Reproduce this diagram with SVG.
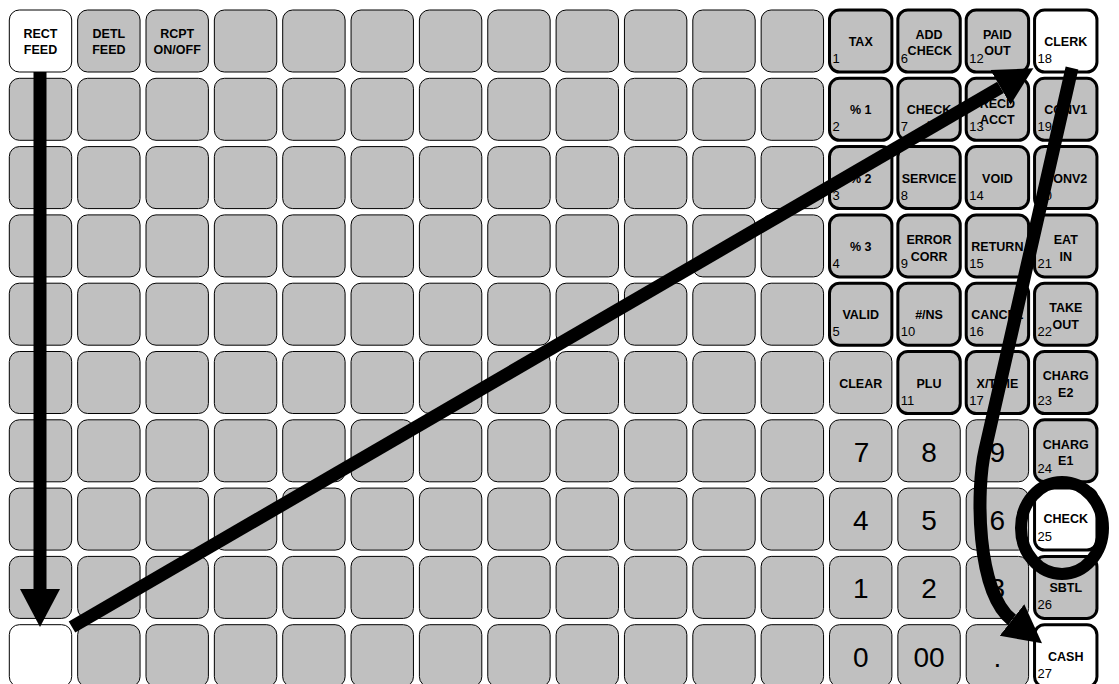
<svg xmlns="http://www.w3.org/2000/svg" width="1119" height="684" viewBox="0 0 1119 684">
<style>
.key{fill:#c0c0c0;stroke:#000;stroke-width:1}
.w{fill:#fff}
.fk{stroke-width:3}
.lb{font-family:"Liberation Sans",Arial,sans-serif;font-weight:bold;font-size:12.5px;text-anchor:middle;fill:#000}
.nm{font-family:"Liberation Sans",Arial,sans-serif;font-size:13px;fill:#000}
.dg{font-family:"Liberation Sans",Arial,sans-serif;font-size:28px;text-anchor:middle;fill:#000}
.ar{fill:none;stroke:#000;stroke-width:13}
</style>
<defs>
<marker id="ah" markerUnits="userSpaceOnUse" markerWidth="40" markerHeight="42" refX="0" refY="21" orient="auto" viewBox="0 0 40 42">
<path d="M0,1 L38,21 L0,41 z" fill="#000"/>
</marker>
<rect id="kb" width="62.4" height="62" rx="10"/>
</defs>
<rect width="1119" height="684" fill="#fff"/>
<g id="keys">
<!-- row 0 -->
<g id="k0_0" transform="translate(9.3,10)"><rect class="key w" width="62.4" height="62" rx="10"/><text class="lb" x="31.2" y="27.5">RECT</text><text class="lb" x="31.2" y="43.5">FEED</text></g>
<g id="k0_1" transform="translate(77.65,10)"><rect class="key" width="62.4" height="62" rx="10"/><text class="lb" x="31.2" y="27.5">DETL</text><text class="lb" x="31.2" y="43.5">FEED</text></g>
<g id="k0_2" transform="translate(146,10)"><rect class="key" width="62.4" height="62" rx="10"/><text class="lb" x="31.2" y="27.5">RCPT</text><text class="lb" x="31.2" y="43.5">ON/OFF</text></g>
<g id="k0_3" transform="translate(214.35,10)"><rect class="key" width="62.4" height="62" rx="10"/></g>
<g id="k0_4" transform="translate(282.7,10)"><rect class="key" width="62.4" height="62" rx="10"/></g>
<g id="k0_5" transform="translate(351.05,10)"><rect class="key" width="62.4" height="62" rx="10"/></g>
<g id="k0_6" transform="translate(419.4,10)"><rect class="key" width="62.4" height="62" rx="10"/></g>
<g id="k0_7" transform="translate(487.75,10)"><rect class="key" width="62.4" height="62" rx="10"/></g>
<g id="k0_8" transform="translate(556.1,10)"><rect class="key" width="62.4" height="62" rx="10"/></g>
<g id="k0_9" transform="translate(624.45,10)"><rect class="key" width="62.4" height="62" rx="10"/></g>
<g id="k0_10" transform="translate(692.8,10)"><rect class="key" width="62.4" height="62" rx="10"/></g>
<g id="k0_11" transform="translate(761.15,10)"><rect class="key" width="62.4" height="62" rx="10"/></g>
<g id="k0_12" transform="translate(829.5,10)"><rect class="key fk" width="62.4" height="62" rx="10"/><text class="lb" x="31.2" y="36">TAX</text><text class="nm" x="3" y="53">1</text></g>
<g id="k0_13" transform="translate(897.85,10)"><rect class="key fk" width="62.4" height="62" rx="10"/><text class="lb" x="31.2" y="28.5">ADD</text><text class="lb" x="32" y="45.3">CHECK</text><text class="nm" x="3" y="53">6</text></g>
<g id="k0_14" transform="translate(966.2,10)"><rect class="key fk" width="62.4" height="62" rx="10"/><text class="lb" x="31.2" y="28.5">PAID</text><text class="lb" x="31.2" y="45.3">OUT</text><text class="nm" x="3" y="53">12</text></g>
<g id="k0_15" transform="translate(1034.55,10)"><rect class="key fk w" width="62.4" height="62" rx="10"/><text class="lb" x="31.2" y="36">CLERK</text><text class="nm" x="3" y="53">18</text></g>
<!-- row 1 -->
<g id="k1_0" transform="translate(9.3,78.3)"><rect class="key" width="62.4" height="62" rx="10"/></g>
<g id="k1_1" transform="translate(77.65,78.3)"><rect class="key" width="62.4" height="62" rx="10"/></g>
<g id="k1_2" transform="translate(146,78.3)"><rect class="key" width="62.4" height="62" rx="10"/></g>
<g id="k1_3" transform="translate(214.35,78.3)"><rect class="key" width="62.4" height="62" rx="10"/></g>
<g id="k1_4" transform="translate(282.7,78.3)"><rect class="key" width="62.4" height="62" rx="10"/></g>
<g id="k1_5" transform="translate(351.05,78.3)"><rect class="key" width="62.4" height="62" rx="10"/></g>
<g id="k1_6" transform="translate(419.4,78.3)"><rect class="key" width="62.4" height="62" rx="10"/></g>
<g id="k1_7" transform="translate(487.75,78.3)"><rect class="key" width="62.4" height="62" rx="10"/></g>
<g id="k1_8" transform="translate(556.1,78.3)"><rect class="key" width="62.4" height="62" rx="10"/></g>
<g id="k1_9" transform="translate(624.45,78.3)"><rect class="key" width="62.4" height="62" rx="10"/></g>
<g id="k1_10" transform="translate(692.8,78.3)"><rect class="key" width="62.4" height="62" rx="10"/></g>
<g id="k1_11" transform="translate(761.15,78.3)"><rect class="key" width="62.4" height="62" rx="10"/></g>
<g id="k1_12" transform="translate(829.5,78.3)"><rect class="key fk" width="62.4" height="62" rx="10"/><text class="lb" x="31.2" y="36">% 1</text><text class="nm" x="3" y="53">2</text></g>
<g id="k1_13" transform="translate(897.85,78.3)"><rect class="key fk" width="62.4" height="62" rx="10"/><text class="lb" x="31.2" y="35.7">CHECK</text><text class="lb" x="31.2" y="51.7">#</text><text class="nm" x="3" y="53">7</text></g>
<g id="k1_14" transform="translate(966.2,78.3)"><rect class="key fk" width="62.4" height="62" rx="10"/><text class="lb" x="31.2" y="29.7">RECD</text><text class="lb" x="31.2" y="45.7">ACCT</text><text class="nm" x="3" y="53">13</text></g>
<g id="k1_15" transform="translate(1034.55,78.3)"><rect class="key fk" width="62.4" height="62" rx="10"/><text class="lb" x="31.2" y="36">CONV1</text><text class="nm" x="3" y="53">19</text></g>
<!-- row 2 -->
<g id="k2_0" transform="translate(9.3,146.6)"><rect class="key" width="62.4" height="62" rx="10"/></g>
<g id="k2_1" transform="translate(77.65,146.6)"><rect class="key" width="62.4" height="62" rx="10"/></g>
<g id="k2_2" transform="translate(146,146.6)"><rect class="key" width="62.4" height="62" rx="10"/></g>
<g id="k2_3" transform="translate(214.35,146.6)"><rect class="key" width="62.4" height="62" rx="10"/></g>
<g id="k2_4" transform="translate(282.7,146.6)"><rect class="key" width="62.4" height="62" rx="10"/></g>
<g id="k2_5" transform="translate(351.05,146.6)"><rect class="key" width="62.4" height="62" rx="10"/></g>
<g id="k2_6" transform="translate(419.4,146.6)"><rect class="key" width="62.4" height="62" rx="10"/></g>
<g id="k2_7" transform="translate(487.75,146.6)"><rect class="key" width="62.4" height="62" rx="10"/></g>
<g id="k2_8" transform="translate(556.1,146.6)"><rect class="key" width="62.4" height="62" rx="10"/></g>
<g id="k2_9" transform="translate(624.45,146.6)"><rect class="key" width="62.4" height="62" rx="10"/></g>
<g id="k2_10" transform="translate(692.8,146.6)"><rect class="key" width="62.4" height="62" rx="10"/></g>
<g id="k2_11" transform="translate(761.15,146.6)"><rect class="key" width="62.4" height="62" rx="10"/></g>
<g id="k2_12" transform="translate(829.5,146.6)"><rect class="key fk" width="62.4" height="62" rx="10"/><text class="lb" x="31.2" y="36">% 2</text><text class="nm" x="3" y="53">3</text></g>
<g id="k2_13" transform="translate(897.85,146.6)"><rect class="key fk" width="62.4" height="62" rx="10"/><text class="lb" x="31.2" y="36">SERVICE</text><text class="nm" x="3" y="53">8</text></g>
<g id="k2_14" transform="translate(966.2,146.6)"><rect class="key fk" width="62.4" height="62" rx="10"/><text class="lb" x="31.2" y="36">VOID</text><text class="nm" x="3" y="53">14</text></g>
<g id="k2_15" transform="translate(1034.55,146.6)"><rect class="key fk" width="62.4" height="62" rx="10"/><text class="lb" x="31.2" y="36">CONV2</text><text class="nm" x="3" y="53">20</text></g>
<!-- row 3 -->
<g id="k3_0" transform="translate(9.3,214.9)"><rect class="key" width="62.4" height="62" rx="10"/></g>
<g id="k3_1" transform="translate(77.65,214.9)"><rect class="key" width="62.4" height="62" rx="10"/></g>
<g id="k3_2" transform="translate(146,214.9)"><rect class="key" width="62.4" height="62" rx="10"/></g>
<g id="k3_3" transform="translate(214.35,214.9)"><rect class="key" width="62.4" height="62" rx="10"/></g>
<g id="k3_4" transform="translate(282.7,214.9)"><rect class="key" width="62.4" height="62" rx="10"/></g>
<g id="k3_5" transform="translate(351.05,214.9)"><rect class="key" width="62.4" height="62" rx="10"/></g>
<g id="k3_6" transform="translate(419.4,214.9)"><rect class="key" width="62.4" height="62" rx="10"/></g>
<g id="k3_7" transform="translate(487.75,214.9)"><rect class="key" width="62.4" height="62" rx="10"/></g>
<g id="k3_8" transform="translate(556.1,214.9)"><rect class="key" width="62.4" height="62" rx="10"/></g>
<g id="k3_9" transform="translate(624.45,214.9)"><rect class="key" width="62.4" height="62" rx="10"/></g>
<g id="k3_10" transform="translate(692.8,214.9)"><rect class="key" width="62.4" height="62" rx="10"/></g>
<g id="k3_11" transform="translate(761.15,214.9)"><rect class="key" width="62.4" height="62" rx="10"/></g>
<g id="k3_12" transform="translate(829.5,214.9)"><rect class="key fk" width="62.4" height="62" rx="10"/><text class="lb" x="31.2" y="36">% 3</text><text class="nm" x="3" y="53">4</text></g>
<g id="k3_13" transform="translate(897.85,214.9)"><rect class="key fk" width="62.4" height="62" rx="10"/><text class="lb" x="31.2" y="29">ERROR</text><text class="lb" x="31.2" y="46">CORR</text><text class="nm" x="3" y="53">9</text></g>
<g id="k3_14" transform="translate(966.2,214.9)"><rect class="key fk" width="62.4" height="62" rx="10"/><text class="lb" x="31.2" y="36">RETURN</text><text class="nm" x="3" y="53">15</text></g>
<g id="k3_15" transform="translate(1034.55,214.9)"><rect class="key fk" width="62.4" height="62" rx="10"/><text class="lb" x="31.2" y="29">EAT</text><text class="lb" x="31.2" y="46">IN</text><text class="nm" x="3" y="53">21</text></g>
<!-- row 4 -->
<g id="k4_0" transform="translate(9.3,283.2)"><rect class="key" width="62.4" height="62" rx="10"/></g>
<g id="k4_1" transform="translate(77.65,283.2)"><rect class="key" width="62.4" height="62" rx="10"/></g>
<g id="k4_2" transform="translate(146,283.2)"><rect class="key" width="62.4" height="62" rx="10"/></g>
<g id="k4_3" transform="translate(214.35,283.2)"><rect class="key" width="62.4" height="62" rx="10"/></g>
<g id="k4_4" transform="translate(282.7,283.2)"><rect class="key" width="62.4" height="62" rx="10"/></g>
<g id="k4_5" transform="translate(351.05,283.2)"><rect class="key" width="62.4" height="62" rx="10"/></g>
<g id="k4_6" transform="translate(419.4,283.2)"><rect class="key" width="62.4" height="62" rx="10"/></g>
<g id="k4_7" transform="translate(487.75,283.2)"><rect class="key" width="62.4" height="62" rx="10"/></g>
<g id="k4_8" transform="translate(556.1,283.2)"><rect class="key" width="62.4" height="62" rx="10"/></g>
<g id="k4_9" transform="translate(624.45,283.2)"><rect class="key" width="62.4" height="62" rx="10"/></g>
<g id="k4_10" transform="translate(692.8,283.2)"><rect class="key" width="62.4" height="62" rx="10"/></g>
<g id="k4_11" transform="translate(761.15,283.2)"><rect class="key" width="62.4" height="62" rx="10"/></g>
<g id="k4_12" transform="translate(829.5,283.2)"><rect class="key fk" width="62.4" height="62" rx="10"/><text class="lb" x="31.2" y="36">VALID</text><text class="nm" x="3" y="53">5</text></g>
<g id="k4_13" transform="translate(897.85,283.2)"><rect class="key fk" width="62.4" height="62" rx="10"/><text class="lb" x="31.2" y="36">#/NS</text><text class="nm" x="3" y="53">10</text></g>
<g id="k4_14" transform="translate(966.2,283.2)"><rect class="key fk" width="62.4" height="62" rx="10"/><text class="lb" x="31.2" y="36">CANCEL</text><text class="nm" x="3" y="53">16</text></g>
<g id="k4_15" transform="translate(1034.55,283.2)"><rect class="key fk" width="62.4" height="62" rx="10"/><text class="lb" x="31.2" y="28.5">TAKE</text><text class="lb" x="31.2" y="45.8">OUT</text><text class="nm" x="3" y="53">22</text></g>
<!-- row 5 -->
<g id="k5_0" transform="translate(9.3,351.5)"><rect class="key" width="62.4" height="62" rx="10"/></g>
<g id="k5_1" transform="translate(77.65,351.5)"><rect class="key" width="62.4" height="62" rx="10"/></g>
<g id="k5_2" transform="translate(146,351.5)"><rect class="key" width="62.4" height="62" rx="10"/></g>
<g id="k5_3" transform="translate(214.35,351.5)"><rect class="key" width="62.4" height="62" rx="10"/></g>
<g id="k5_4" transform="translate(282.7,351.5)"><rect class="key" width="62.4" height="62" rx="10"/></g>
<g id="k5_5" transform="translate(351.05,351.5)"><rect class="key" width="62.4" height="62" rx="10"/></g>
<g id="k5_6" transform="translate(419.4,351.5)"><rect class="key" width="62.4" height="62" rx="10"/></g>
<g id="k5_7" transform="translate(487.75,351.5)"><rect class="key" width="62.4" height="62" rx="10"/></g>
<g id="k5_8" transform="translate(556.1,351.5)"><rect class="key" width="62.4" height="62" rx="10"/></g>
<g id="k5_9" transform="translate(624.45,351.5)"><rect class="key" width="62.4" height="62" rx="10"/></g>
<g id="k5_10" transform="translate(692.8,351.5)"><rect class="key" width="62.4" height="62" rx="10"/></g>
<g id="k5_11" transform="translate(761.15,351.5)"><rect class="key" width="62.4" height="62" rx="10"/></g>
<g id="k5_12" transform="translate(829.5,351.5)"><rect class="key" width="62.4" height="62" rx="10"/><text class="lb" x="31.2" y="36">CLEAR</text></g>
<g id="k5_13" transform="translate(897.85,351.5)"><rect class="key fk" width="62.4" height="62" rx="10"/><text class="lb" x="31.2" y="36">PLU</text><text class="nm" x="3" y="53">11</text></g>
<g id="k5_14" transform="translate(966.2,351.5)"><rect class="key fk" width="62.4" height="62" rx="10"/><text class="lb" x="31.2" y="36">X/TIME</text><text class="nm" x="3" y="53">17</text></g>
<g id="k5_15" transform="translate(1034.55,351.5)"><rect class="key fk" width="62.4" height="62" rx="10"/><text class="lb" x="31.2" y="28.5">CHARG</text><text class="lb" x="31.2" y="45.3">E2</text><text class="nm" x="3" y="53">23</text></g>
<!-- row 6 -->
<g id="k6_0" transform="translate(9.3,419.8)"><rect class="key" width="62.4" height="62" rx="10"/></g>
<g id="k6_1" transform="translate(77.65,419.8)"><rect class="key" width="62.4" height="62" rx="10"/></g>
<g id="k6_2" transform="translate(146,419.8)"><rect class="key" width="62.4" height="62" rx="10"/></g>
<g id="k6_3" transform="translate(214.35,419.8)"><rect class="key" width="62.4" height="62" rx="10"/></g>
<g id="k6_4" transform="translate(282.7,419.8)"><rect class="key" width="62.4" height="62" rx="10"/></g>
<g id="k6_5" transform="translate(351.05,419.8)"><rect class="key" width="62.4" height="62" rx="10"/></g>
<g id="k6_6" transform="translate(419.4,419.8)"><rect class="key" width="62.4" height="62" rx="10"/></g>
<g id="k6_7" transform="translate(487.75,419.8)"><rect class="key" width="62.4" height="62" rx="10"/></g>
<g id="k6_8" transform="translate(556.1,419.8)"><rect class="key" width="62.4" height="62" rx="10"/></g>
<g id="k6_9" transform="translate(624.45,419.8)"><rect class="key" width="62.4" height="62" rx="10"/></g>
<g id="k6_10" transform="translate(692.8,419.8)"><rect class="key" width="62.4" height="62" rx="10"/></g>
<g id="k6_11" transform="translate(761.15,419.8)"><rect class="key" width="62.4" height="62" rx="10"/></g>
<g id="k6_12" transform="translate(829.5,419.8)"><rect class="key" width="62.4" height="62" rx="10"/><text class="dg" x="32" y="42">7</text></g>
<g id="k6_13" transform="translate(897.85,419.8)"><rect class="key" width="62.4" height="62" rx="10"/><text class="dg" x="31.2" y="42">8</text></g>
<g id="k6_14" transform="translate(966.2,419.8)"><rect class="key" width="62.4" height="62" rx="10"/><text class="dg" x="31.2" y="42">9</text></g>
<g id="k6_15" transform="translate(1034.55,419.8)"><rect class="key fk" width="62.4" height="62" rx="10"/><text class="lb" x="31.2" y="29.2">CHARG</text><text class="lb" x="31.2" y="45.2">E1</text><text class="nm" x="3" y="53">24</text></g>
<!-- row 7 -->
<g id="k7_0" transform="translate(9.3,488.1)"><rect class="key" width="62.4" height="62" rx="10"/></g>
<g id="k7_1" transform="translate(77.65,488.1)"><rect class="key" width="62.4" height="62" rx="10"/></g>
<g id="k7_2" transform="translate(146,488.1)"><rect class="key" width="62.4" height="62" rx="10"/></g>
<g id="k7_3" transform="translate(214.35,488.1)"><rect class="key" width="62.4" height="62" rx="10"/></g>
<g id="k7_4" transform="translate(282.7,488.1)"><rect class="key" width="62.4" height="62" rx="10"/></g>
<g id="k7_5" transform="translate(351.05,488.1)"><rect class="key" width="62.4" height="62" rx="10"/></g>
<g id="k7_6" transform="translate(419.4,488.1)"><rect class="key" width="62.4" height="62" rx="10"/></g>
<g id="k7_7" transform="translate(487.75,488.1)"><rect class="key" width="62.4" height="62" rx="10"/></g>
<g id="k7_8" transform="translate(556.1,488.1)"><rect class="key" width="62.4" height="62" rx="10"/></g>
<g id="k7_9" transform="translate(624.45,488.1)"><rect class="key" width="62.4" height="62" rx="10"/></g>
<g id="k7_10" transform="translate(692.8,488.1)"><rect class="key" width="62.4" height="62" rx="10"/></g>
<g id="k7_11" transform="translate(761.15,488.1)"><rect class="key" width="62.4" height="62" rx="10"/></g>
<g id="k7_12" transform="translate(829.5,488.1)"><rect class="key" width="62.4" height="62" rx="10"/><text class="dg" x="31.2" y="42">4</text></g>
<g id="k7_13" transform="translate(897.85,488.1)"><rect class="key" width="62.4" height="62" rx="10"/><text class="dg" x="31.2" y="42">5</text></g>
<g id="k7_14" transform="translate(966.2,488.1)"><rect class="key" width="62.4" height="62" rx="10"/><text class="dg" x="31.2" y="42">6</text></g>
<g id="k7_15" transform="translate(1034.55,488.1)"><rect class="key fk w" width="62.4" height="62" rx="10"/><text class="lb" x="31.2" y="35.2">CHECK</text><text class="nm" x="3" y="53">25</text></g>
<!-- row 8 -->
<g id="k8_0" transform="translate(9.3,556.4)"><rect class="key" width="62.4" height="62" rx="10"/></g>
<g id="k8_1" transform="translate(77.65,556.4)"><rect class="key" width="62.4" height="62" rx="10"/></g>
<g id="k8_2" transform="translate(146,556.4)"><rect class="key" width="62.4" height="62" rx="10"/></g>
<g id="k8_3" transform="translate(214.35,556.4)"><rect class="key" width="62.4" height="62" rx="10"/></g>
<g id="k8_4" transform="translate(282.7,556.4)"><rect class="key" width="62.4" height="62" rx="10"/></g>
<g id="k8_5" transform="translate(351.05,556.4)"><rect class="key" width="62.4" height="62" rx="10"/></g>
<g id="k8_6" transform="translate(419.4,556.4)"><rect class="key" width="62.4" height="62" rx="10"/></g>
<g id="k8_7" transform="translate(487.75,556.4)"><rect class="key" width="62.4" height="62" rx="10"/></g>
<g id="k8_8" transform="translate(556.1,556.4)"><rect class="key" width="62.4" height="62" rx="10"/></g>
<g id="k8_9" transform="translate(624.45,556.4)"><rect class="key" width="62.4" height="62" rx="10"/></g>
<g id="k8_10" transform="translate(692.8,556.4)"><rect class="key" width="62.4" height="62" rx="10"/></g>
<g id="k8_11" transform="translate(761.15,556.4)"><rect class="key" width="62.4" height="62" rx="10"/></g>
<g id="k8_12" transform="translate(829.5,556.4)"><rect class="key" width="62.4" height="62" rx="10"/><text class="dg" x="31.2" y="42">1</text></g>
<g id="k8_13" transform="translate(897.85,556.4)"><rect class="key" width="62.4" height="62" rx="10"/><text class="dg" x="31.2" y="42">2</text></g>
<g id="k8_14" transform="translate(966.2,556.4)"><rect class="key" width="62.4" height="62" rx="10"/><text class="dg" x="31.2" y="42">3</text></g>
<g id="k8_15" transform="translate(1034.55,556.4)"><rect class="key fk" width="62.4" height="62" rx="10"/><text class="lb" x="31.2" y="35.9">SBTL</text><text class="nm" x="3" y="53">26</text></g>
<!-- row 9 -->
<g id="k9_0" transform="translate(9.3,624.7)"><rect class="key w" width="62.4" height="62" rx="10"/></g>
<g id="k9_1" transform="translate(77.65,624.7)"><rect class="key" width="62.4" height="62" rx="10"/></g>
<g id="k9_2" transform="translate(146,624.7)"><rect class="key" width="62.4" height="62" rx="10"/></g>
<g id="k9_3" transform="translate(214.35,624.7)"><rect class="key" width="62.4" height="62" rx="10"/></g>
<g id="k9_4" transform="translate(282.7,624.7)"><rect class="key" width="62.4" height="62" rx="10"/></g>
<g id="k9_5" transform="translate(351.05,624.7)"><rect class="key" width="62.4" height="62" rx="10"/></g>
<g id="k9_6" transform="translate(419.4,624.7)"><rect class="key" width="62.4" height="62" rx="10"/></g>
<g id="k9_7" transform="translate(487.75,624.7)"><rect class="key" width="62.4" height="62" rx="10"/></g>
<g id="k9_8" transform="translate(556.1,624.7)"><rect class="key" width="62.4" height="62" rx="10"/></g>
<g id="k9_9" transform="translate(624.45,624.7)"><rect class="key" width="62.4" height="62" rx="10"/></g>
<g id="k9_10" transform="translate(692.8,624.7)"><rect class="key" width="62.4" height="62" rx="10"/></g>
<g id="k9_11" transform="translate(761.15,624.7)"><rect class="key" width="62.4" height="62" rx="10"/></g>
<g id="k9_12" transform="translate(829.5,624.7)"><rect class="key" width="62.4" height="62" rx="10"/><text class="dg" x="31.2" y="42">0</text></g>
<g id="k9_13" transform="translate(897.85,624.7)"><rect class="key" width="62.4" height="62" rx="10"/><text class="dg" x="31.2" y="42">00</text></g>
<g id="k9_14" transform="translate(966.2,624.7)"><rect class="key" width="62.4" height="62" rx="10"/><text class="dg" x="31.2" y="42">.</text></g>
<g id="k9_15" transform="translate(1034.55,624.7)"><rect class="key fk w" width="62.4" height="62" rx="10"/><text class="lb" x="31.2" y="36">CASH</text><text class="nm" x="3" y="53">27</text></g>
</g>
<g id="connectors">
<path class="ar" d="M40,72 L40,589" marker-end="url(#ah)"/>
<path class="ar" d="M72,627 L1000.5,87.4" marker-end="url(#ah)"/>
<path class="ar" d="M1072,68 L985,450 C976,489 976,592 1012,620" marker-end="url(#ah)"/>
</g>
<g id="highlight">
<ellipse cx="1062" cy="528" rx="41" ry="46" fill="none" stroke="#000" stroke-width="12"/>
</g>
</svg>
